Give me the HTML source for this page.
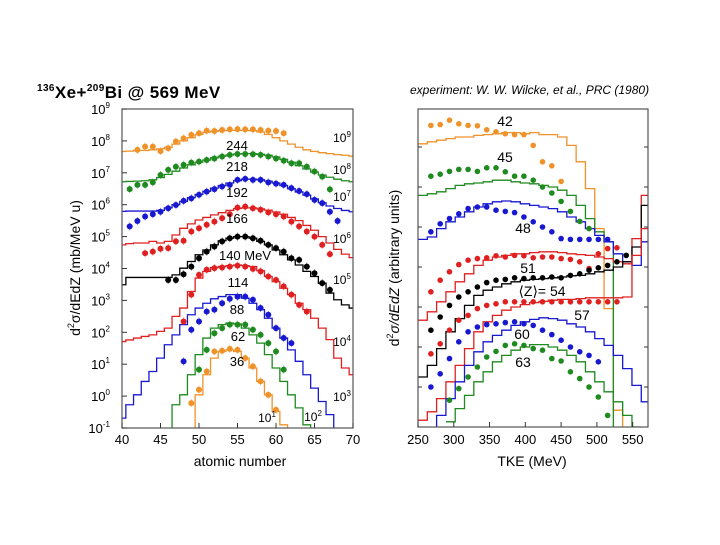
<!DOCTYPE html>
<html><head><meta charset="utf-8"><style>
body{margin:0;background:#fff;width:720px;height:540px;overflow:hidden;font-family:"Liberation Sans",sans-serif}
</style></head><body>
<svg id="c" width="720" height="540" xmlns="http://www.w3.org/2000/svg" font-family="Liberation Sans, sans-serif">
<text x="37" y="98" font-size="17" font-weight="bold" letter-spacing="0.4"><tspan font-size="10" dy="-7">136</tspan><tspan dy="7">Xe+</tspan><tspan font-size="10" dy="-7">209</tspan><tspan dy="7">Bi @ 569 MeV</tspan></text>
<text x="410" y="94" font-size="12" font-style="italic">experiment: W. W. Wilcke, et al., PRC (1980)</text>
<defs><clipPath id="cl"><rect x="122" y="109" width="231" height="319"/></clipPath><clipPath id="cr"><rect x="418" y="109" width="230" height="318"/></clipPath></defs>
<g id="L"></g><g id="R"></g>
</svg>
<script>
// ---------- Left panel data (log10 of cross section, offset series) ----------
const lZ = [40,41,42,43,44,45,46,47,48,49,50,51,52,53,54,55,56,57,58,59,60,61,62,63,64,65,66,67,68,69,70];
const lLabels = ['244','218','192','166','140 MeV','114','88','62','36'];
const lColors = ['#f0922a','#1f8a1f','#1818d0','#e02020','#000','#e02020','#1818d0','#1f8a1f','#f0922a'];
const lLine0=[7.67,7.68,7.7,7.7,7.72,7.75,7.8,7.9,8.0,8.1,8.2,8.27,8.3,8.32,8.33,8.33,8.33,8.32,8.28,8.2,8.1,8.0,7.9,7.8,7.72,7.67,7.63,7.6,7.57,7.55,7.52];
const lLine1=[6.72,6.73,6.74,6.75,6.78,6.85,6.95,7.05,7.15,7.25,7.33,7.4,7.47,7.52,7.56,7.59,7.6,7.6,7.58,7.55,7.5,7.42,7.33,7.22,7.12,7.02,6.93,6.86,6.8,6.75,6.72];
const lLine2=[5.79,5.8,5.8,5.8,5.8,5.82,5.9,6.0,6.1,6.22,6.32,6.42,6.52,6.6,6.68,6.75,6.8,6.8,6.78,6.74,6.68,6.6,6.5,6.4,6.3,6.18,6.06,5.96,5.88,5.82,5.78];
const lLine3=[4.74,4.78,4.8,4.8,4.85,4.8,4.85,5.05,5.26,5.4,5.52,5.6,5.68,5.75,5.82,5.88,5.9,5.9,5.87,5.83,5.77,5.7,5.6,5.5,5.35,5.2,5.0,4.8,4.6,4.45,4.34];
const lLine4=[3.49,3.72,3.72,3.72,3.72,3.72,3.72,3.8,4.01,4.22,4.43,4.58,4.74,4.87,4.95,5.0,5.0,4.95,4.85,4.74,4.58,4.43,4.27,4.11,3.91,3.75,3.54,3.23,3.02,2.86,2.76];
const lLine5=[1.71,1.76,1.82,1.87,1.92,2.03,2.13,2.5,2.76,3.28,3.7,3.91,4.03,4.06,4.09,4.11,4.09,4.06,3.93,3.75,3.59,3.38,3.18,2.91,2.71,2.44,2.13,1.77,1.19,0.88,0.67];
const lLine6=[-0.69,-0.27,0.04,0.46,0.77,1.19,1.61,1.92,2.24,2.55,2.76,2.91,3.05,3.12,3.18,3.18,3.07,2.91,2.71,2.44,2.13,1.82,1.45,1.09,0.67,0.25,-0.17,-0.58,-2,-2,-2];
const lLine7=[-2,-2,-2,-2,-2,-2,-2,-0.27,0.04,0.67,1.3,1.82,2.13,2.24,2.29,2.26,2.13,1.92,1.66,1.3,0.88,0.46,0.04,-0.37,-0.9,-2,-2,-2,-2,-2,-2];
const lLine8=[-2,-2,-2,-2,-2,-2,-2,-2,-2,-2,0.04,0.67,1.19,1.4,1.45,1.4,1.19,0.88,0.46,0.04,-0.48,-0.9,-2,-2,-2,-2,-2,-2,-2,-2,-2];
const lDotStart=[42,41,41,43,46,48,48,50,49];
const lDot0=[7.72,7.82,7.82,7.68,7.77,7.98,8.08,8.19,8.24,8.32,8.31,8.34,8.36,8.37,8.36,8.36,8.34,8.32,8.31,8.24];
const lDot1=[6.49,6.62,6.62,6.7,6.93,7.09,7.19,7.25,7.32,7.35,7.4,7.45,7.51,7.56,7.59,7.59,7.58,7.56,7.51,7.45,7.38,7.3,7.3,7.19,7.04,6.88,6.48];
const lDot2=[5.32,5.49,5.63,5.7,5.78,5.89,5.99,6.12,6.2,6.31,6.41,6.49,6.57,6.62,6.78,6.81,6.78,6.78,6.7,6.66,6.62,6.52,6.43,6.33,6.15,6.05,5.78,5.49];
const lDot3=[4.48,4.53,4.62,4.64,4.85,4.87,5.16,5.26,5.37,5.47,5.58,5.7,5.91,5.94,5.89,5.84,5.76,5.7,5.63,5.47,5.32,5.16,5.0,4.74,4.45];
const lDot4=[3.64,3.64,3.82,4.06,4.32,4.53,4.69,4.85,4.95,5.0,5.0,4.95,4.87,4.74,4.64,4.53,4.32,4.27,4.06,3.85,3.54,3.33];
const lDot5=[2.34,3.18,3.8,3.96,4.01,4.03,4.06,4.09,4.06,3.99,3.91,3.75,3.64,3.44,3.18,2.86,2.65];
const lDot6=[1.09,2.08,2.34,2.65,2.71,2.91,3.05,3.12,3.12,3.02,2.76,2.55,2.13,1.82,1.66];
const lDot7=[0.83,1.45,1.97,2.13,2.24,2.24,2.24,2.08,1.92,1.66,1.4,0.83];
const lDot8=[-0.22,0.2,0.77,1.4,1.42,1.48,1.45,1.19,0.93,0.46,0.04,-0.43];
const lYTicks=['9','8','7','6','5','4','3','2','1','0','-1'];
const lXTicks=[40,45,50,55,60,65,70];
const lScaleLabels=['9','8','7','6','5','4','3','2','1'];
// ---------- Right panel data ----------
const rLabels=['42','45','48','51','⟨Z⟩= 54','57','60','63'];
const rColors=['#f0922a','#1f8a1f','#1818d0','#e02020','#000','#e02020','#1818d0','#1f8a1f'];
const rLineStart=[250,250,250,250,250,250,263,289];
const rLine0=[7.08,7.13,7.17,7.21,7.25,7.25,7.29,7.31,7.33,7.36,7.36,7.33,7.36,7.31,7.31,7.25,7.04,6.63,5.96,4.96,2.96,0.42,-1];
const rLine1=[5.79,5.83,5.88,5.96,6.04,6.08,6.1,6.13,6.17,6.17,6.13,6.1,6.08,6.04,6.0,5.92,5.79,5.54,5.21,4.88,4.63,-1];
const rLine2=[4.69,4.75,4.96,5.13,5.25,5.38,5.5,5.58,5.63,5.65,5.63,5.58,5.54,5.5,5.46,5.38,5.25,5.13,4.96,4.79,4.63,4.33,4.13,4.04,4.63];
const rLine3=[2.67,2.88,3.13,3.38,3.63,3.83,4.04,4.17,4.25,4.29,4.33,4.33,4.36,4.38,4.38,4.36,4.33,4.31,4.29,4.25,4.21,4.13,4.08,4.71,5.79];
const rLine4=[1.25,1.54,1.96,2.38,2.71,3.04,3.29,3.42,3.5,3.58,3.63,3.67,3.69,3.71,3.73,3.75,3.78,3.79,3.83,3.88,3.92,4.0,4.13,4.5,5.54];
const rLine5=[0.17,0.38,0.71,1.13,1.54,1.96,2.38,2.63,2.79,2.92,3.0,3.06,3.11,3.14,3.17,3.19,3.19,3.21,3.23,3.23,3.23,3.23,3.25,4.29,4.96];
const rLine6=[-0.1,0.29,0.71,1.13,1.54,1.88,2.13,2.29,2.42,2.54,2.63,2.69,2.73,2.71,2.67,2.58,2.5,2.38,2.21,2.04,1.79,1.46,1.04,0.63];
const rLine7=[0.13,0.46,0.79,1.13,1.38,1.63,1.79,1.92,2.0,2.06,2.06,2.0,1.92,1.79,1.63,1.38,1.13,0.88,0.63,0.29,0];
const rDotStart=[268,268,268,268,268,268,268,294];
const rDot0=[7.54,7.56,7.67,7.58,7.54,7.53,7.43,7.38,7.33,7.31,7.31,7.04,6.63,6.53,6.14];
const rDot1=[6.27,6.32,6.39,6.44,6.44,6.39,6.48,6.48,6.38,6.27,6.27,6.17,6.0,5.85,5.64,5.39,5.14,4.96];
const rDot2=[4.88,5.08,5.21,5.33,5.46,5.5,5.5,5.42,5.39,5.36,5.25,5.13,5.0,4.88,4.71,4.69,4.69,4.69,4.69,4.69];
const rDot3=[3.38,3.67,3.88,4.06,4.17,4.21,4.23,4.28,4.25,4.29,4.28,4.23,4.25,4.25,4.21,4.19,4.13,3.96,4.33,4.46,4.48];
const rDot4=[2.42,2.75,3.04,3.25,3.38,3.5,3.61,3.67,3.69,3.73,3.71,3.73,3.73,3.75,3.73,3.79,3.83,3.92,3.98,4.04,4.13,4.29];
const rDot5=[1.83,2.08,2.42,2.67,2.79,2.96,3.04,3.08,3.13,3.13,3.13,3.13,3.13,3.13,3.13,3.13,3.13,3.13,3.13,3.13,3.13];
const rDot6=[1.0,1.33,1.71,2.13,2.38,2.5,2.56,2.58,2.61,2.63,2.58,2.54,2.42,2.31,2.17,2.0,1.88,1.79,1.63];
const rDot7=[0.67,0.96,1.25,1.5,1.75,1.89,2.04,2.08,2.04,1.96,1.92,1.71,1.65,1.38,1.21,1.0,0.75,0.29];
const rXTicks=[250,300,350,400,450,500,550];

const NS='http://www.w3.org/2000/svg';
function mk(p,t,a){const e=document.createElementNS(NS,t);for(const k in a)e.setAttribute(k,a[k]);p.appendChild(e);return e;}
const xL=z=>122+(z-40)*231/30, yL=v=>428-(v+1)*31.9;
const xR=t=>418+(t-250)*0.7156, yR=v=>427-v*40;
const L=document.getElementById('L'), R=document.getElementById('R');
const lLines=[lLine0,lLine1,lLine2,lLine3,lLine4,lLine5,lLine6,lLine7,lLine8];
const lDots=[lDot0,lDot1,lDot2,lDot3,lDot4,lDot5,lDot6,lDot7,lDot8];
const rLines=[rLine0,rLine1,rLine2,rLine3,rLine4,rLine5,rLine6,rLine7];
const rDots=[rDot0,rDot1,rDot2,rDot3,rDot4,rDot5,rDot6,rDot7];

// Left
const lg=mk(L,'g',{'clip-path':'url(#cl)'});
lLines.forEach((arr,i)=>{let d='';arr.forEach((v,j)=>{const x0=xL(lZ[j]-0.5),x1=xL(lZ[j]+0.5),y=yL(v);d+=(j?'L':'M')+x0+','+y+'L'+x1+','+y;});
 const p=mk(lg,'path',{d:d,fill:'none',stroke:lColors[i],'stroke-width':1.3});
 
 });
lDots.forEach((arr,i)=>{arr.forEach((v,j)=>{const x=xL(lDotStart[i]+j),y=yL(v);
 mk(lg,'line',{x1:x,x2:x,y1:y-4,y2:y+4,stroke:lColors[i],'stroke-width':0.8,opacity:0.6});
 const c=mk(lg,'circle',{cx:x,cy:y,r:3,fill:lColors[i]});
 
 });});
const lf=mk(L,'rect',{x:122,y:109,width:231,height:319,fill:'none',stroke:'#555','stroke-width':1.2});

lYTicks.forEach(t=>{const v=+t,y=yL(v);mk(L,'line',{x1:122,x2:127,y1:y,y2:y,stroke:'#333'});
 const tx=mk(L,'text',{x:110,y:y+5,'font-size':13,'text-anchor':'end'});tx.textContent='10';
 const s=mk(tx,'tspan',{'font-size':8,dy:-6});s.textContent=t;
 });
lXTicks.forEach(z=>{const x=xL(z);mk(L,'line',{x1:x,x2:x,y1:428,y2:423,stroke:'#333'});
 const tx=mk(L,'text',{x:x,y:444,'font-size':13,'text-anchor':'middle'});tx.textContent=z;
 });
const lLabPos=[[237,150],[237,171],[237,197],[237,223],[245,260],[238,287],[237,314],[238,341],[237,366]];
lLabels.forEach((s,i)=>{const t=mk(L,'text',{x:lLabPos[i][0],y:lLabPos[i][1],'font-size':13,'text-anchor':'middle'});t.textContent=s;
 });
const sPos=[[342,142],[342,174],[342,201],[342,243],[342,284],[342,346],[342,401],[313,421],[267,422]];
lScaleLabels.forEach((s,i)=>{const t=mk(L,'text',{x:sPos[i][0],y:sPos[i][1],'font-size':12,'text-anchor':'middle'});t.textContent='10';
 const sp=mk(t,'tspan',{'font-size':8,dy:-5});sp.textContent=s;
 });
let t=mk(L,'text',{x:240,y:466,'font-size':14,'text-anchor':'middle'});t.textContent='atomic number';

t=mk(L,'text',{x:0,y:0,'font-size':14,'text-anchor':'middle',transform:'translate(80,268) rotate(-90)'});
t.innerHTML='d<tspan font-size="9" dy="-6">2</tspan><tspan dy="6">σ/dEdZ (mb/MeV u)</tspan>';


// Right
const rg=mk(R,'g',{'clip-path':'url(#cr)'});
rLines.forEach((arr,i)=>{let d='';arr.forEach((v,j)=>{const t0=rLineStart[i]+13*j,y=yR(v);d+=(j?'L':'M')+xR(t0)+','+y+'L'+xR(t0+13)+','+y;});
 const p=mk(rg,'path',{d:d,fill:'none',stroke:rColors[i],'stroke-width':1.3});
 
 });
rDots.forEach((arr,i)=>{arr.forEach((v,j)=>{const c=mk(rg,'circle',{cx:xR(rDotStart[i]+13*j),cy:yR(v),r:2.8,fill:rColors[i]});
 
 });});
const rf=mk(R,'rect',{x:418,y:109,width:230,height:318,fill:'none',stroke:'#555','stroke-width':1.2});

for(let k=1;k<8;k++){const y=yR(k);mk(R,'line',{x1:418,x2:422,y1:y,y2:y,stroke:'#333'});mk(R,'line',{x1:648,x2:644,y1:y,y2:y,stroke:'#333'});}
rXTicks.forEach(v=>{const x=xR(v);mk(R,'line',{x1:x,x2:x,y1:427,y2:422,stroke:'#333'});
 const tx=mk(R,'text',{x:x,y:444,'font-size':13,'text-anchor':'middle'});tx.textContent=v;
 });
const rLabPos=[[505,126],[505,162],[523,233],[528,273],[542,296],[582,320],[522,339],[523,367]];
rLabels.forEach((s,i)=>{const t=mk(R,'text',{x:rLabPos[i][0],y:rLabPos[i][1],'font-size':14,'text-anchor':'middle'});t.textContent=s;
 });
t=mk(R,'text',{x:532,y:466,'font-size':14,'text-anchor':'middle'});t.textContent='TKE (MeV)';

t=mk(R,'text',{x:0,y:0,'font-size':14,'text-anchor':'middle',transform:'translate(399,268) rotate(-90)'});
t.innerHTML='d<tspan font-size="9" dy="-6">2</tspan><tspan dy="6" font-style="italic">σ/dEdZ</tspan><tspan> (arbitrary units)</tspan>';

</script>
</body></html>
